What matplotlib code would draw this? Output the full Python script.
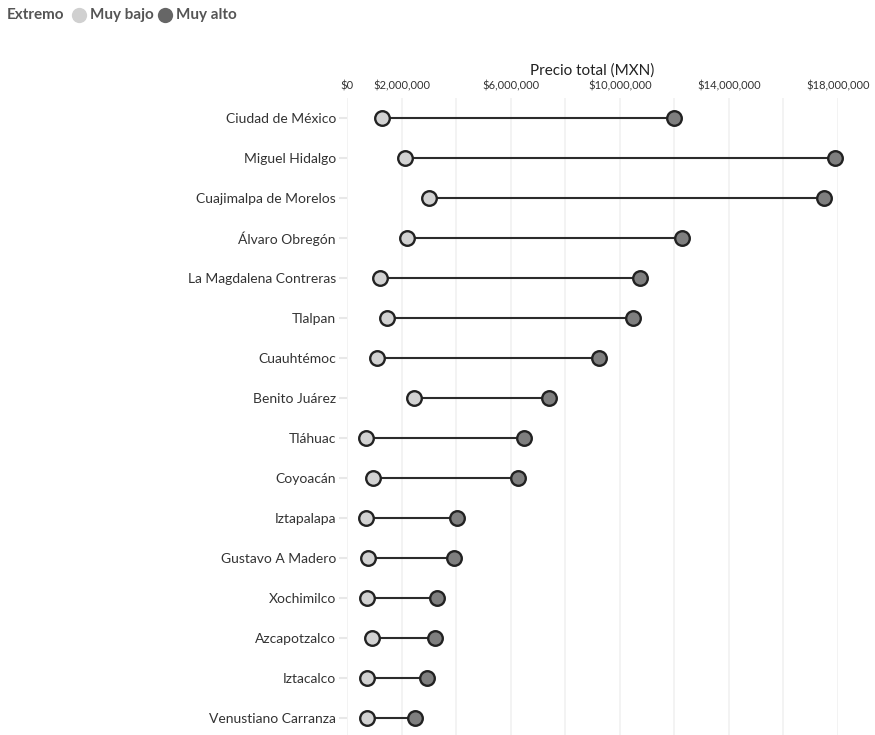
import matplotlib
matplotlib.use('Agg')
import matplotlib.pyplot as plt
from matplotlib.lines import Line2D
import numpy as np

plt.rcParams['font.family'] = ['Lato', 'DejaVu Sans']

# Alcaldías, ordered top to bottom
alcaldias = ['Ciudad de México', 'Miguel Hidalgo', 'Cuajimalpa de Morelos',
             'Álvaro Obregón', 'La Magdalena Contreras', 'Tlalpan', 'Cuauhtémoc',
             'Benito Juárez', 'Tláhuac', 'Coyoacán', 'Iztapalapa',
             'Gustavo A Madero', 'Xochimilco', 'Azcapotzalco', 'Iztacalco',
             'Venustiano Carranza']

# Precio total (MXN), in millions
muy_bajo = [1.27, 2.14, 2.99, 2.19, 1.21, 1.45, 1.09, 2.44, 0.69, 0.97,
            0.69, 0.76, 0.75, 0.92, 0.75, 0.75]
muy_alto = [12.0, 17.89, 17.49, 12.29, 10.74, 10.48, 9.22, 7.39, 6.50, 6.26,
            4.02, 3.92, 3.31, 3.23, 2.93, 2.49]

tick_vals = [0, 2, 6, 10, 14, 18]
tick_labels = ['$0', '$2,000,000', '$6,000,000', '$10,000,000',
               '$14,000,000', '$18,000,000']

c_low = '#d2d2d2'
c_high = '#7f7f7f'
c_edge = '#222222'

fig = plt.figure(figsize=(8.75, 7.35), dpi=100)
W, H = 875, 735
ax = fig.add_axes([347 / W, 0, (838 - 347) / W, (735 - 98) / H])

y = np.arange(len(alcaldias))
lo = np.array(muy_bajo) * 1e6
hi = np.array(muy_alto) * 1e6

ax.hlines(y, lo, hi, color='#2b2b2b', linewidth=1.5, zorder=2)
ax.plot(lo, y, 'o', ms=10.5, mfc=c_low, mec=c_edge, mew=1.7, zorder=3, clip_on=False)
ax.plot(hi, y, 'o', ms=10.5, mfc=c_high, mec=c_edge, mew=1.7, zorder=3, clip_on=False)

ax.set_xlim(0, 18e6)
ax.set_ylim(15.43, -0.5)
ax.set_yticks(y)
ax.set_yticklabels(alcaldias, fontsize=10, color='#333333')

ax.set_xticks(np.arange(0, 18.1, 2) * 1e6, minor=True)
ax.set_xticks(np.array(tick_vals) * 1e6)
ax.set_xticklabels(tick_labels, fontsize=8, color='#333333')
ax.xaxis.tick_top()
ax.xaxis.set_label_position('top')
ax.set_xlabel('Precio total (MXN)', fontsize=11, color='#222222', labelpad=4)

ax.tick_params(axis='x', which='both', length=0, pad=5)
ax.tick_params(axis='y', length=6, width=1.5, color='#e8e8e8', pad=2)
ax.grid(axis='x', which='both', color='#f1f1f1', linewidth=1.2, zorder=0)
ax.set_axisbelow(True)
for s in ax.spines.values():
    s.set_visible(False)

# legend row at top-left
ly = 1 - 15 / H
fig.text(7 / W, ly, 'Extremo', fontsize=11, weight='bold',
         color='#555555', va='center', ha='left')
fig.add_artist(Line2D([79 / W], [ly], marker='o', ms=11, mfc='#d0d0d0',
                      mec='none', transform=fig.transFigure))
fig.text(90 / W, ly, 'Muy bajo', fontsize=11, weight='bold',
         color='#555555', va='center', ha='left')
fig.add_artist(Line2D([165 / W], [ly], marker='o', ms=11, mfc='#666666',
                      mec='none', transform=fig.transFigure))
fig.text(176 / W, ly, 'Muy alto', fontsize=11, weight='bold',
         color='#555555', va='center', ha='left')

fig.savefig('out.png', dpi=100)
